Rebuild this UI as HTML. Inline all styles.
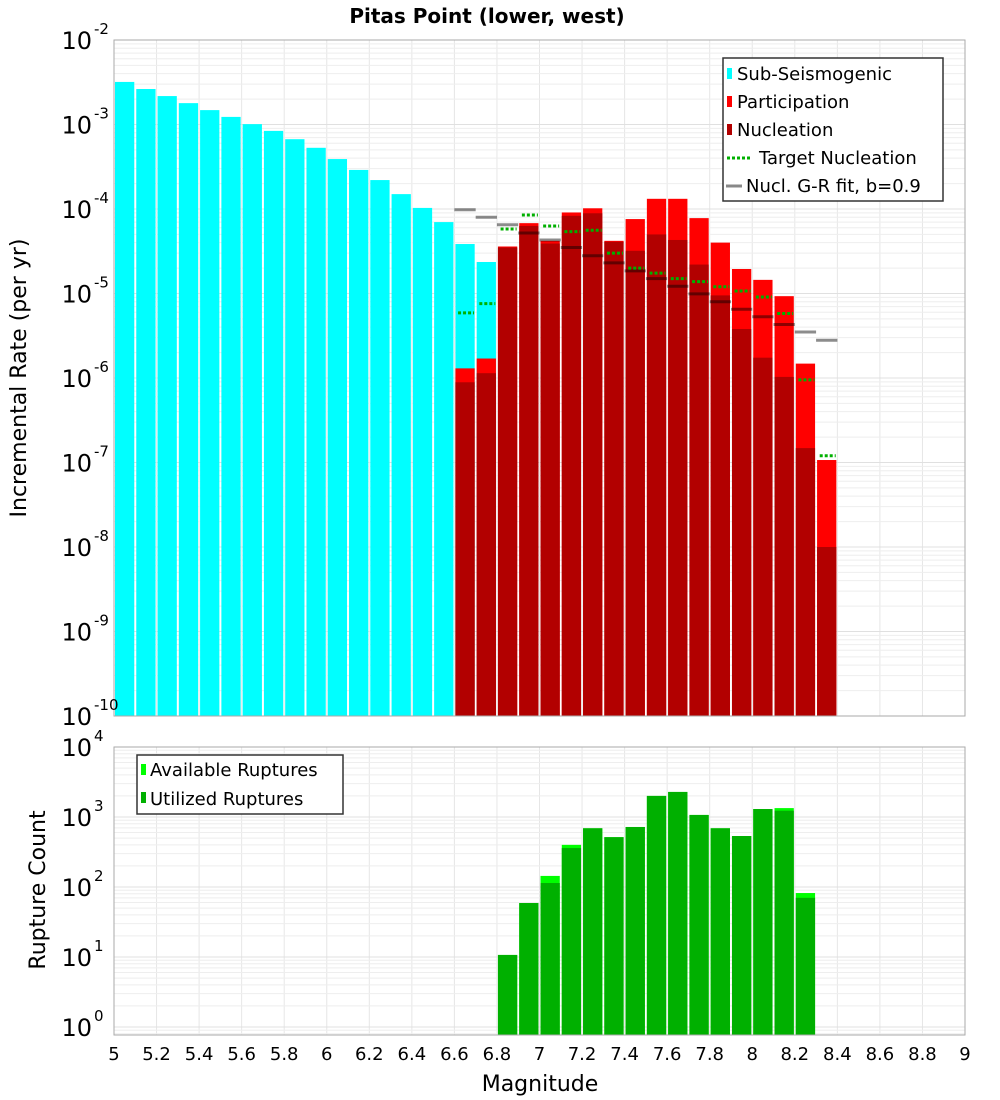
<!DOCTYPE html>
<html><head><meta charset="utf-8"><style>
body{margin:0;background:#fff;}
svg{display:block;font-family:"DejaVu Sans","Liberation Sans",sans-serif;}
</style></head><body>
<svg id="chart" width="1000" height="1100" viewBox="0 0 1000 1100" xmlns="http://www.w3.org/2000/svg">
<text x="487" y="23" text-anchor="middle" font-size="20" font-weight="bold">Pitas Point (lower, west)</text>
<text transform="translate(26,378) rotate(-90)" text-anchor="middle" font-size="22">Incremental Rate (per yr)</text>
<text transform="translate(45,890) rotate(-90)" text-anchor="middle" font-size="22">Rupture Count</text>
<text x="540" y="1091" text-anchor="middle" font-size="22">Magnitude</text>
<g id="grid"></g><g id="bars"></g><g id="lines"></g><g id="axes"></g>
<g>
<rect x="723" y="58" width="220" height="143" fill="#fff" stroke="#333" stroke-width="1.5"/>
<rect x="727" y="68" width="5" height="11" fill="#00ffff"/><text x="737" y="80" font-size="18">Sub-Seismogenic</text>
<rect x="727" y="96" width="5" height="11" fill="#ff0000"/><text x="737" y="108" font-size="18">Participation</text>
<rect x="727" y="124" width="5" height="11" fill="#b20000"/><text x="737" y="136" font-size="18">Nucleation</text>
<line x1="727" y1="158" x2="752" y2="158" stroke="#00b000" stroke-width="3" stroke-dasharray="3,2"/><text x="759" y="164" font-size="18">Target Nucleation</text>
<line x1="726" y1="186" x2="742" y2="186" stroke="#888" stroke-width="3"/><text x="746" y="192" font-size="18">Nucl. G-R fit, b=0.9</text>
</g>
<g>
<rect x="137" y="755" width="206" height="59" fill="#fff" stroke="#333" stroke-width="1.5"/>
<rect x="141" y="764" width="5" height="11" fill="#00ff00"/><text x="150" y="776" font-size="18">Available Ruptures</text>
<rect x="141" y="792" width="5" height="11" fill="#00b000"/><text x="150" y="805" font-size="18">Utilized Ruptures</text>
</g>
</svg>
<script>
const subMags=[5.05,5.15,5.25,5.35,5.45,5.55,5.65,5.75,5.85,5.95,6.05,6.15,6.25,6.35,6.45,6.55,6.65,6.75];
const subRates=[3.19e-3,2.63e-3,2.17e-3,1.79e-3,1.48e-3,1.23e-3,1.01e-3,8.4e-4,6.7e-4,5.3e-4,3.9e-4,2.9e-4,2.2e-4,1.5e-4,1.03e-4,7.0e-5,3.85e-5,2.36e-5];
const supMags=[6.65,6.75,6.85,6.95,7.05,7.15,7.25,7.35,7.45,7.55,7.65,7.75,7.85,7.95,8.05,8.15,8.25,8.35];
const partRates=[1.3e-6,1.7e-6,3.6e-5,6.8e-5,4.2e-5,9.1e-5,1.02e-4,4.2e-5,7.6e-5,1.32e-4,1.32e-4,7.8e-5,4.0e-5,1.95e-5,1.45e-5,9.3e-6,1.48e-6,1.07e-7];
const nuclRates=[8.9e-7,1.14e-6,3.5e-5,6.3e-5,3.9e-5,8.3e-5,8.9e-5,4.1e-5,3.2e-5,5.0e-5,4.3e-5,2.2e-5,9.5e-6,3.8e-6,1.74e-6,1.03e-6,1.48e-7,1.0e-8];
const targetRates=[5.9e-6,7.6e-6,5.8e-5,8.5e-5,6.3e-5,5.4e-5,5.6e-5,3.0e-5,2.0e-5,1.74e-5,1.5e-5,1.38e-5,1.2e-5,1.07e-5,9.1e-6,5.8e-6,9.5e-7,1.2e-7];
const grRates=[9.8e-5,8.0e-5,6.5e-5,5.2e-5,4.3e-5,3.5e-5,2.8e-5,2.3e-5,1.85e-5,1.5e-5,1.22e-5,9.9e-6,8.0e-6,6.5e-6,5.3e-6,4.3e-6,3.5e-6,2.8e-6];
const cntMags=[6.85,6.95,7.05,7.15,7.25,7.35,7.45,7.55,7.65,7.75,7.85,7.95,8.05,8.15,8.25];
const availCounts=[10.7,59,144,400,690,515,720,2000,2280,1070,690,535,1300,1340,82];
const usedCounts=[10.7,59,114,360,690,515,720,2000,2280,1070,690,535,1300,1230,70];
const xTicks=["5","5.2","5.4","5.6","5.8","6","6.2","6.4","6.6","6.8","7","7.2","7.4","7.6","7.8","8","8.2","8.4","8.6","8.8","9"];
const topExps=[-2,-3,-4,-5,-6,-7,-8,-9,-10];
const botExps=[4,3,2,1,0];

const NS="http://www.w3.org/2000/svg";
const X0=114,X1=965,T0=40,T1=716,B0=747,B1=1035;
const x=m=>X0+(m-5)/4*(X1-X0);
const yT=v=>T0+(-2-Math.log10(v))*84.5;
const yB=v=>1027-Math.log10(v)*70;
const bw=(X1-X0)/40;
function mk(p,tag,a){const e=document.createElementNS(NS,tag);for(const k in a)e.setAttribute(k,a[k]);document.getElementById(p).appendChild(e);return e;}

// grid
for(let i=0;i<=20;i++){const xx=x(5+i*0.2);
 let g=mk('grid','line',{x1:xx,x2:xx,y1:T0,y2:T1,stroke:'#e6e6e6'});
 g=mk('grid','line',{x1:xx,x2:xx,y1:B0,y2:B1,stroke:'#e6e6e6'});}
for(let e=-10;e<-2;e++)for(let k=1;k<10;k++){const yy=yT(k*Math.pow(10,e));
 const g=mk('grid','line',{x1:X0,x2:X1,y1:yy,y2:yy,stroke:k==1?'#e0e0e0':'#eeeeee'});}
for(let e=-1;e<4;e++)for(let k=1;k<10;k++){const yy=yB(k*Math.pow(10,e));if(yy>B1)continue;
 const g=mk('grid','line',{x1:X0,x2:X1,y1:yy,y2:yy,stroke:k==1?'#e0e0e0':'#eeeeee'});}

function bar(m,v,fill,yf,base,name){const top=yf(v);const r=mk('bars','rect',{x:x(m)-bw/2+1,y:top,width:bw-2,height:base-top,fill:fill});
 
 }
subMags.forEach((m,i)=>bar(m,subRates[i],'#00ffff',yT,T1,'sub-seismogenic-bar'));
supMags.forEach((m,i)=>bar(m,partRates[i],'#ff0000',yT,T1,'participation-bar'));
supMags.forEach((m,i)=>bar(m,nuclRates[i],'#b20000',yT,T1,'nucleation-bar'));
cntMags.forEach((m,i)=>bar(m,availCounts[i],'#00ff00',yB,B1,'available-ruptures-bar'));
cntMags.forEach((m,i)=>bar(m,usedCounts[i],'#00b000',yB,B1,'utilized-ruptures-bar'));
supMags.forEach((m,i)=>{const yy=yT(grRates[i]);const l=mk('lines','line',{x1:x(m)-bw/2,x2:x(m)+bw/2,y1:yy,y2:yy,stroke:'rgba(0,0,0,0.45)','stroke-width':3});
 
 });
supMags.forEach((m,i)=>{const yy=yT(targetRates[i]);const l=mk('lines','line',{x1:x(m)-7,x2:x(m)+9,y1:yy,y2:yy,stroke:'#00b000','stroke-width':3,'stroke-dasharray':'3,2'});
 
 });

// axes
let a=mk('axes','rect',{x:X0,y:T0,width:X1-X0,height:T1-T0,fill:'none',stroke:'#aaa'});
a=mk('axes','rect',{x:X0,y:B0,width:X1-X0,height:B1-B0,fill:'none',stroke:'#aaa'});
xTicks.forEach(t=>{const tx=mk('axes','text',{x:x(parseFloat(t)),y:1060,'text-anchor':'middle','font-size':18});tx.textContent=t;
 
 });
function ylab(yy,e,name){const t=mk('axes','text',{x:92,y:yy+9,'text-anchor':'end','font-size':24});t.textContent='10';
 
 
 const s=mk('axes','text',{x:94,y:yy-6,'font-size':15});s.textContent=String(e);
 
 }
topExps.forEach(e=>ylab(yT(Math.pow(10,e)),e,'top-y-tick-label'));
botExps.forEach(e=>ylab(yB(Math.pow(10,e)),e,'bottom-y-tick-label'));
</script>
</body></html>
